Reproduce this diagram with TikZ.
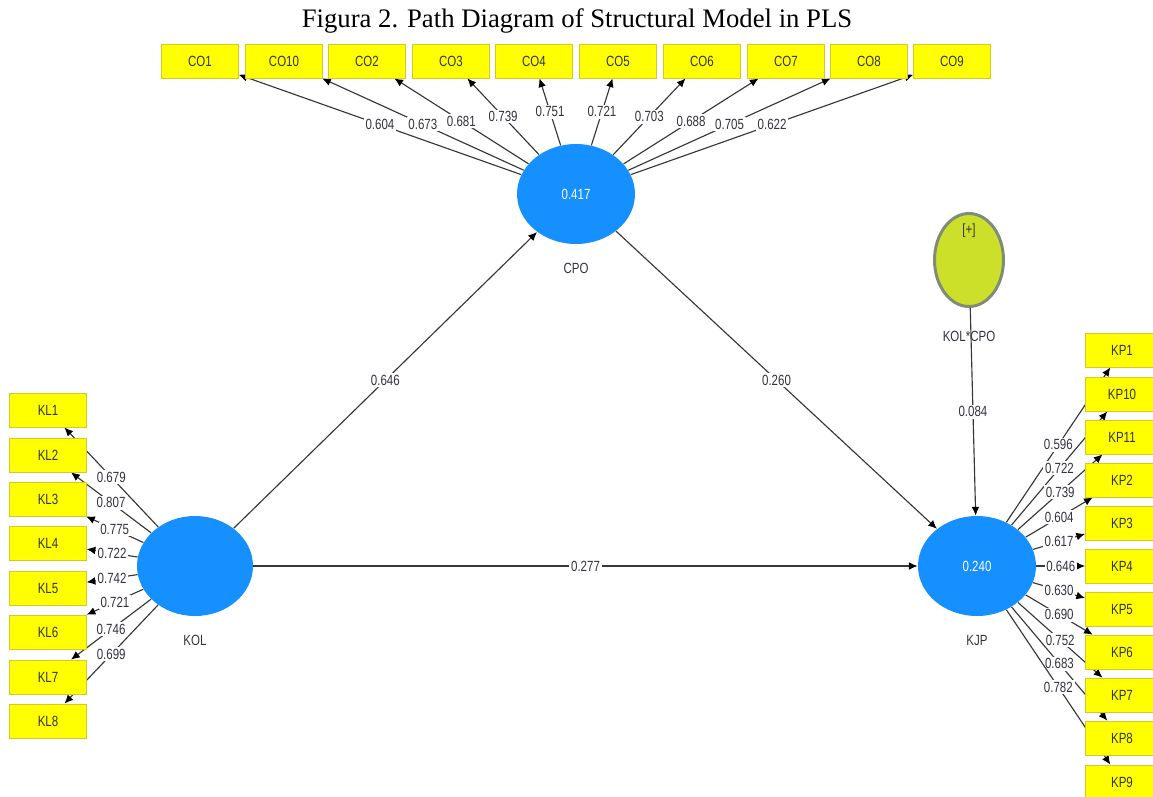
\documentclass[tikz,border=0pt]{standalone}
\usepackage{fontspec}
\setmainfont{Liberation Serif}
\newfontfamily\plsfont[FakeStretch=0.78]{Liberation Sans}
\usetikzlibrary{arrows.meta,shapes.geometric}
\pgfdeclarelayer{background}
\pgfsetlayers{background,main}
\definecolor{boxfill}{RGB}{255,255,0}
\definecolor{boxedge}{RGB}{214,200,40}
\definecolor{lvblue}{RGB}{22,144,255}
\definecolor{modfill}{RGB}{204,224,42}
\definecolor{modedge}{RGB}{128,140,120}
\definecolor{linegray}{RGB}{55,55,55}
\definecolor{textgray}{RGB}{50,50,60}
\begin{document}
\begin{tikzpicture}[x=0.02cm,y=-0.02cm,
    item/.style={draw=boxedge,fill=boxfill,minimum width=1.53cm,minimum height=0.68cm,inner sep=0pt,text=textgray,font=\plsfont\fontsize{8.4}{9}\selectfont},
    kpitem/.style={item,minimum width=1.46cm},
    latent/.style={ellipse,fill=lvblue,minimum width=2.36cm,minimum height=2cm,inner sep=0pt,text=white,font=\plsfont\fontsize{8.4}{9}\selectfont},
    lvname/.style={text=textgray,font=\plsfont\fontsize{8.4}{9}\selectfont},
    load/.style={draw=linegray,line width=0.65pt,-{Latex[length=5pt,width=4.4pt,color=black]}},
    val/.style={fill=white,inner sep=1pt,text=textgray,font=\plsfont\fontsize{8.4}{9}\selectfont}]
    \useasboundingbox (0,0) rectangle (1153,796);

    \node(title) at (577,21) [font=\fontsize{15.2}{17}\selectfont] {Figura 2. Path Diagram of Structural Model in PLS};

    % latent variables
    \node(cpo) at (576,194) [latent] {0.417};
    \node(cpo_name) at (576,268) [lvname] {CPO};
    \node(kol) at (195,566) [latent,minimum width=2.32cm] {};
    \node(kol_name) at (195,640) [lvname] {KOL};
    \node(kjp) at (977,566) [latent] {0.240};
    \node(kjp_name) at (977,640) [lvname] {KJP};
    \node(mod) at (969,260) [ellipse,draw=modedge,line width=1.7pt,fill=modfill,minimum width=1.38cm,minimum height=1.86cm,inner sep=0pt] {};
    \node(mod_plus) at (969,231) [lvname] {[+]};
    \node(mod_name) at (969,336) [lvname] {KOL*CPO};

    % indicators of CPO
    \node(co1) at (200,61) [item] {CO1};
    \node(co10) at (284,61) [item] {CO10};
    \node(co2) at (367,61) [item] {CO2};
    \node(co3) at (451,61) [item] {CO3};
    \node(co4) at (534,61) [item] {CO4};
    \node(co5) at (618,61) [item] {CO5};
    \node(co6) at (702,61) [item] {CO6};
    \node(co7) at (786,61) [item] {CO7};
    \node(co8) at (869,61) [item] {CO8};
    \node(co9) at (952,61) [item] {CO9};

    % indicators of KOL
    \node(kl1) at (48,410) [item] {KL1};
    \node(kl2) at (48,455) [item] {KL2};
    \node(kl3) at (48,499) [item] {KL3};
    \node(kl4) at (48,543) [item] {KL4};
    \node(kl5) at (48,588) [item] {KL5};
    \node(kl6) at (48,632) [item] {KL6};
    \node(kl7) at (48,677) [item] {KL7};
    \node(kl8) at (48,721) [item] {KL8};

    % indicators of KJP
    \node(kp1) at (1122,350) [kpitem] {KP1};
    \node(kp10) at (1122,394) [kpitem] {KP10};
    \node(kp11) at (1122,437) [kpitem] {KP11};
    \node(kp2) at (1122,480) [kpitem] {KP2};
    \node(kp3) at (1122,523) [kpitem] {KP3};
    \node(kp4) at (1122,566) [kpitem] {KP4};
    \node(kp5) at (1122,609) [kpitem] {KP5};
    \node(kp6) at (1122,652) [kpitem] {KP6};
    \node(kp7) at (1122,695) [kpitem] {KP7};
    \node(kp8) at (1122,738) [kpitem] {KP8};
    \node(kp9) at (1122,782) [kpitem] {KP9};

    \begin{pgfonlayer}{background}
    % inner model
    \draw[load] (kol) -- (cpo) node[val,midway] {0.646};
    \draw[load] (cpo) -- (kjp) node[val,midway] {0.260};
    \draw[load] (kol) -- (kjp) node[val,midway] {0.277};
    \draw[load] (mod) -- (kjp) node[val,midway] {0.084};

    % outer loadings
    \draw[load] (cpo) -- (co1) node[val,midway] {0.604};
    \draw[load] (cpo) -- (co10) node[val,midway] {0.673};
    \draw[load] (cpo) -- (co2) node[val,midway] {0.681};
    \draw[load] (cpo) -- (co3) node[val,midway] {0.739};
    \draw[load] (cpo) -- (co4) node[val,midway] {0.751};
    \draw[load] (cpo) -- (co5) node[val,midway] {0.721};
    \draw[load] (cpo) -- (co6) node[val,midway] {0.703};
    \draw[load] (cpo) -- (co7) node[val,midway] {0.688};
    \draw[load] (cpo) -- (co8) node[val,midway] {0.705};
    \draw[load] (cpo) -- (co9) node[val,midway] {0.622};

    \draw[load] (kol) -- (kl1) node[val,midway] {0.679};
    \draw[load] (kol) -- (kl2) node[val,midway] {0.807};
    \draw[load] (kol) -- (kl3) node[val,midway] {0.775};
    \draw[load] (kol) -- (kl4) node[val,midway] {0.722};
    \draw[load] (kol) -- (kl5) node[val,midway] {0.742};
    \draw[load] (kol) -- (kl6) node[val,midway] {0.721};
    \draw[load] (kol) -- (kl7) node[val,midway] {0.746};
    \draw[load] (kol) -- (kl8) node[val,midway] {0.699};

    \draw[load] (kjp) -- (kp1) node[val,midway] {0.596};
    \draw[load] (kjp) -- (kp10) node[val,midway] {0.722};
    \draw[load] (kjp) -- (kp11) node[val,midway] {0.739};
    \draw[load] (kjp) -- (kp2) node[val,midway] {0.604};
    \draw[load] (kjp) -- (kp3) node[val,midway] {0.617};
    \draw[load] (kjp) -- (kp4) node[val,midway] {0.646};
    \draw[load] (kjp) -- (kp5) node[val,midway] {0.630};
    \draw[load] (kjp) -- (kp6) node[val,midway] {0.690};
    \draw[load] (kjp) -- (kp7) node[val,midway] {0.752};
    \draw[load] (kjp) -- (kp8) node[val,midway] {0.683};
    \draw[load] (kjp) -- (kp9) node[val,midway] {0.782};
    \end{pgfonlayer}
\end{tikzpicture}
\end{document}
